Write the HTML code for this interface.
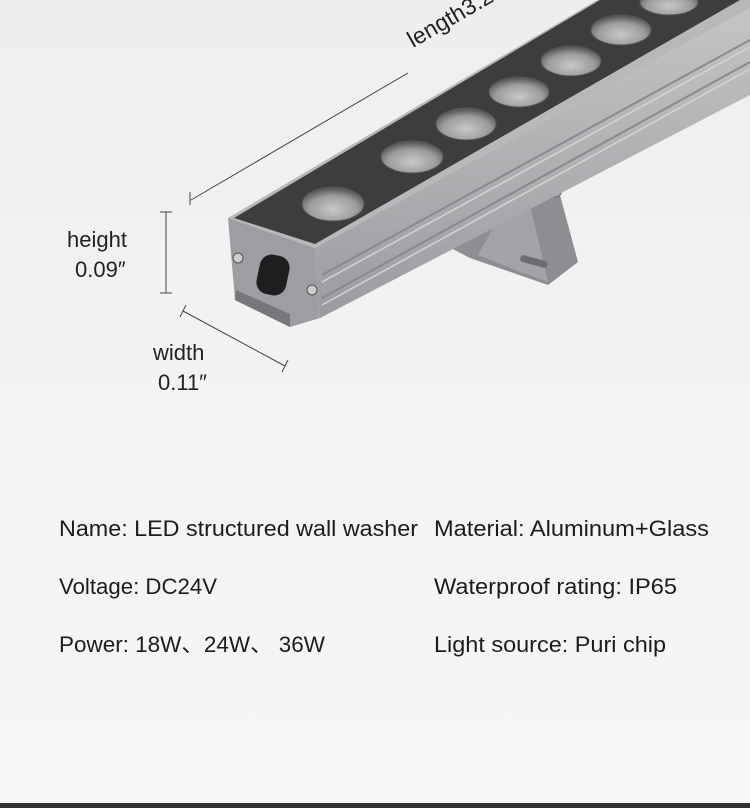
<!DOCTYPE html>
<html><head><meta charset="utf-8"><style>
html,body{margin:0;padding:0;background:#f4f4f4;}
svg{display:block}
</style></head><body>
<svg width="750" height="808" viewBox="0 0 750 808" xmlns="http://www.w3.org/2000/svg">
<defs>
<linearGradient id="bg" x1="0" y1="0" x2="0" y2="1"><stop offset="0" stop-color="#eeeeee"/><stop offset="0.5" stop-color="#f3f3f3"/><stop offset="1" stop-color="#f6f6f6"/></linearGradient>
<radialGradient id="lens" cx="0.5" cy="0.65" r="0.6"><stop offset="0" stop-color="#c8c8c6"/><stop offset="0.65" stop-color="#9c9c9a"/><stop offset="1" stop-color="#5a5a5a"/></radialGradient>
<linearGradient id="side" x1="0" y1="0" x2="0" y2="1"><stop offset="0" stop-color="#c4c4c6"/><stop offset="1" stop-color="#9c9ca0"/></linearGradient>
</defs>
<rect width="750" height="808" fill="url(#bg)"/>
<g font-family="Liberation Sans, sans-serif" fill="#222" font-size="23">
<text x="413" y="48" transform="rotate(-30 413 48)">length3.28'</text>
</g>
<!-- bracket -->
<polygon points="445,245 470,225 520,200 560,195 578,262 548,285 470,258" fill="#8e8e92"/>
<polygon points="478,255 500,215 530,205 548,282 520,272" fill="#a4a4a8"/>
<rect x="520" y="258" width="28" height="7" rx="3" fill="#6e6e72" transform="rotate(15 534 261)"/>
<circle cx="555" cy="190" r="7" fill="#b0b0b4" stroke="#666" stroke-width="1"/>
<!-- side face -->
<polygon points="315,248 750,8 750,95 320,318" fill="url(#side)"/>
<line x1="322" y1="275" x2="750" y2="40" stroke="#8a8a8e" stroke-width="2"/>
<line x1="322" y1="282" x2="750" y2="47" stroke="#d4d4d6" stroke-width="1.5"/>
<line x1="322" y1="298" x2="750" y2="62" stroke="#8a8a8e" stroke-width="2"/>
<line x1="322" y1="305" x2="750" y2="69" stroke="#d4d4d6" stroke-width="1.5"/>
<!-- top dark face -->
<polygon points="228,218 597,0 750,0 750,8 315,248" fill="#b8b8bb"/>
<polygon points="234,218 600,0 740,0 315,244" fill="#3d3d3f"/>
<!-- lenses -->
<g fill="url(#lens)" stroke="#555" stroke-width="1">
<ellipse cx="333" cy="204" rx="31" ry="17"/>
<ellipse cx="412" cy="157" rx="31" ry="16"/>
<ellipse cx="466" cy="124" rx="30" ry="16"/>
<ellipse cx="519" cy="92" rx="30" ry="15"/>
<ellipse cx="571" cy="61" rx="30" ry="15"/>
<ellipse cx="621" cy="30" rx="30" ry="15"/>
<ellipse cx="669" cy="2" rx="29" ry="13"/>
</g>
<!-- front face -->
<polygon points="228,218 315,248 320,318 290,327 235,300" fill="#9e9ea2"/>
<polygon points="236,290 290,314 290,327 235,300" fill="#77777b"/>
<rect x="258" y="255" width="30" height="40" rx="12" fill="#1e1e20" transform="rotate(12 273 275)"/>
<circle cx="238" cy="258" r="5" fill="#ccc" stroke="#555"/>
<circle cx="312" cy="290" r="5" fill="#ccc" stroke="#555"/>
<!-- dimension lines -->
<g stroke="#444" stroke-width="1" fill="none">
<line x1="191" y1="200" x2="408" y2="73"/>
<line x1="190" y1="192" x2="190" y2="205"/>
<line x1="166" y1="212" x2="166" y2="293"/>
<line x1="160" y1="212" x2="172" y2="212"/>
<line x1="160" y1="293" x2="172" y2="293"/>
<line x1="183" y1="311" x2="285" y2="366"/>
<line x1="180" y1="317" x2="186" y2="305"/>
<line x1="282" y1="372" x2="288" y2="360"/>
</g>
<g font-family="Liberation Sans, sans-serif" fill="#222" font-size="22">
<text x="67" y="247">height</text>
<text x="75" y="277">0.09″</text>
<text x="153" y="360">width</text>
<text x="158" y="390">0.11″</text>
</g>
<g font-family="Liberation Sans, 'Noto Sans CJK SC', sans-serif" fill="#1c1c1c" font-size="22">
<text x="59" y="536" textLength="359" lengthAdjust="spacingAndGlyphs">Name: LED structured wall washer</text>
<text x="434" y="536" textLength="275" lengthAdjust="spacingAndGlyphs">Material: Aluminum+Glass</text>
<text x="59" y="594" textLength="158" lengthAdjust="spacingAndGlyphs">Voltage: DC24V</text>
<text x="434" y="594" textLength="243" lengthAdjust="spacingAndGlyphs">Waterproof rating: IP65</text>
<text x="59" y="652" textLength="266" lengthAdjust="spacingAndGlyphs">Power: 18W、24W、 36W</text>
<text x="434" y="652" textLength="232" lengthAdjust="spacingAndGlyphs">Light source: Puri chip</text>
</g>
<rect x="0" y="803" width="750" height="5" fill="#333"/>
</svg>
</body></html>
